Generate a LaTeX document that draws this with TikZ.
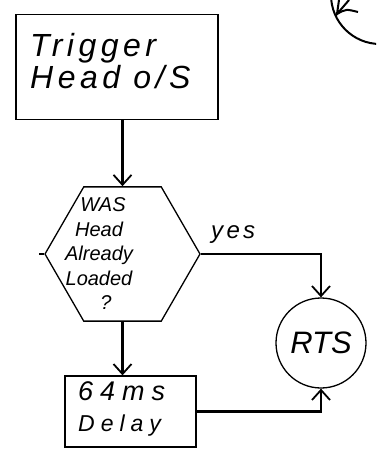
\documentclass[tikz,border=0pt]{standalone}
\usepackage{fontspec}
\newfontfamily\handfont[LetterSpace=14]{Liberation Sans}
\newfontfamily\handwide[LetterSpace=26]{Liberation Sans}
\newfontfamily\handtight{Liberation Sans}
\usetikzlibrary{shapes.geometric,arrows.meta}
\tikzset{
    box/.style={draw,rectangle,line width=1.3pt,inner sep=0pt},
    txt/.style={align=left,inner sep=0pt,anchor=north west},
    arr/.style={line width=2.2pt,-{Straight Barb[length=10pt,width=18pt,line width=1.8pt]}},
}
\begin{document}
\begin{tikzpicture}[x=1pt,y=-1pt]
    \clip (0,0) rectangle (376,455);
    % boxes
    \node[box,minimum width=202pt,minimum height=105pt] (trig) at (117,67) {};
    \node[txt,font=\handfont\fontsize{32}{32}\selectfont\itshape] (trigtxt) at (30,33) {Trigger\\Head o/S};
    \node[draw,regular polygon,regular polygon sides=6,minimum size=155pt,
          inner sep=0pt,line width=1.3pt] (q) at (122.5,254) {};
    \node[align=center,inner sep=0pt,
          font=\handtight\fontsize{20}{24.5}\selectfont\itshape] (qtxt) at (99,254) {\hspace{8pt}WAS\\Head\\Already\\Loaded\\\hspace{14pt}?};
    \node[box,minimum width=131pt,minimum height=71pt] (delay) at (130.5,411.5) {};
    \node[txt,font=\handwide\fontsize{27}{31}\selectfont\itshape] (delaytxt) at (78,381)
        {64ms\\{\fontsize{23}{31}\selectfont Delay}};
    \node[draw,circle,minimum size=90pt,inner sep=0pt,line width=1.3pt,
          font=\handtight\fontsize{31}{31}\selectfont\itshape] (rts) at (321,343) {RTS};
    % connectors
    \draw[arr] (trig.south -| q.north) -- (q.north);
    \draw[arr] (q.south) -- (q.south |- delay.north);
    \draw[arr] (q.east) -- node[pos=0.27,above=6pt,font=\handfont\fontsize{24}{24}\selectfont\itshape] (yes) {yes}
        (q.east -| rts.north) -- (rts.north);
    \draw[arr] (delay.east) -- (delay.east -| rts.south) -- (rts.south);
    \draw[line width=1.3pt] (q.west) -- ++(-5,0);
    % off-page circle, top right
    \draw[line width=2pt] (380,-5) circle (49);
    \draw[line width=2pt] (339,0) -- (337,14) -- (349,0);
    \draw[line width=2pt] (337,14) .. controls (346,9) .. (358,12);
\end{tikzpicture}
\end{document}
